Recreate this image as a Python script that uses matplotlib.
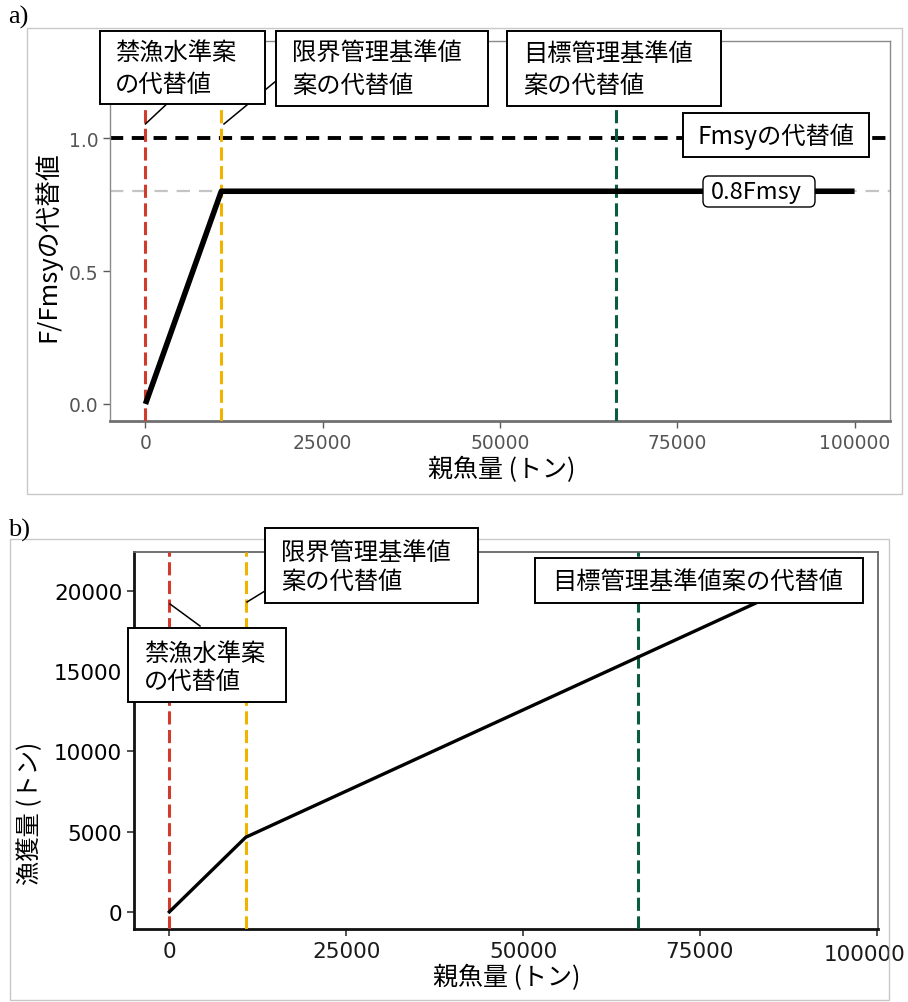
import matplotlib
matplotlib.use('Agg')
import matplotlib.pyplot as plt
from matplotlib.patches import Rectangle, FancyBboxPatch
import matplotlib.transforms as mtransforms

JP = ['Noto Sans CJK JP', 'DejaVu Sans']
plt.rcParams['font.family'] = JP

# ---------------- data ----------------
ssb_a = [0, 10700, 100000]
f_ratio = [0.0, 0.8, 0.8]
ssb_b = [0, 10800, 90000]
catch_b = [0, 4650, 20680]
ref_points_a = [0, 10700, 66300]
ref_points_b = [0, 10800, 66300]
ref_colors = ['#d13b2c', '#efb300', '#0b5b43']
fmsy_level = 1.0
f08_level = 0.8
xticks = [0, 25000, 50000, 75000, 100000]
xticklabels = ['0', '25000', '50000', '75000', '100000']
a_yticks = [0.0, 0.5, 1.0]
a_yticklabels = ['0.0', '0.5', '1.0']
b_yticks = [0, 5000, 10000, 15000, 20000]
b_yticklabels = ['0', '5000', '10000', '15000', '20000']
lab_ban = '禁漁水準案\nの代替値'
lab_limit = '限界管理基準値\n案の代替値'
lab_target = '目標管理基準値\n案の代替値'
lab_target_b = '目標管理基準値案の代替値'
lab_fmsy = 'Fmsyの代替値'
lab_f08 = '0.8Fmsy'
xlabel = '親魚量 (トン)'
ylabel_a = 'F/Fmsyの代替値'
ylabel_b = '漁獲量 (トン)'

W, H = 908, 1003
fig = plt.figure(figsize=(W / 100, H / 100), dpi=100)


def fx(px):
    return px / W


def fy(py):
    return 1 - py / H


def label_box(l, t, r, b, text, tx, ty, fs=17.5, ls=1.2, rounded=False):
    if rounded:
        patch = FancyBboxPatch((fx(l), fy(b)), (r - l) / W, (b - t) / H,
                               boxstyle='round,pad=0,rounding_size=0.006',
                               transform=fig.transFigure, fc='white', ec='black',
                               lw=1.0, zorder=5)
    else:
        patch = Rectangle((fx(l), fy(b)), (r - l) / W, (b - t) / H,
                          transform=fig.transFigure, fc='white', ec='black',
                          lw=1.4, zorder=5)
    fig.add_artist(patch)
    fig.text(fx(tx), fy(ty), text, ha='left', va='center', multialignment='left',
             fontsize=fs, linespacing=ls, zorder=6)


# outer frames
fig.add_artist(Rectangle((fx(27), fy(495)), 875 / W, 466 / H, transform=fig.transFigure,
                         fill=False, ec='#c8c8c8', lw=1))
fig.add_artist(Rectangle((fx(10), fy(1001)), 879 / W, 461 / H, transform=fig.transFigure,
                         fill=False, ec='#c8c8c8', lw=1))

fig.text(fx(8), fy(17), 'a)', family=['Liberation Serif', 'DejaVu Serif'], fontsize=19,
         ha='left', va='center')
fig.text(fx(8), fy(530), 'b)', family=['Liberation Serif', 'DejaVu Serif'], fontsize=19,
         ha='left', va='center')

# ---------------- panel a ----------------
ax_a = fig.add_axes([fx(110), fy(422), 780 / W, 380 / H])
ax_a.set_xlim(-5000, 105000)
ax_a.set_ylim(-0.064, 1.365)

ax_a.axhline(f08_level, color='#c4c4c4', lw=1.6, ls=(0, (6, 4)), zorder=1)
ax_a.axhline(fmsy_level, color='black', lw=2.8, ls=(0, (3.4, 2.2)), zorder=2)
for xv, c in zip(ref_points_a, ref_colors):
    ax_a.axvline(xv, color=c, lw=2.2, ls=(0, (4.3, 1.8)), zorder=3)
ax_a.plot(ssb_a, f_ratio, color='black', lw=4, solid_capstyle='butt', zorder=4)

# leader lines
ax_a.plot([0, 3000], [1.053, 1.128], color='black', lw=1.1, zorder=5, clip_on=False)
ax_a.plot([11077, 18410], [1.053, 1.2146], color='black', lw=1.1, zorder=5, clip_on=False)

label_box(100, 32, 265, 105, lab_ban, 115, 69, ls=1.3)
label_box(276, 32, 488, 107, lab_limit, 292, 70, ls=1.3)
label_box(507, 32, 721, 107, lab_target, 523, 70, ls=1.3)
label_box(683, 114, 869, 158, lab_fmsy, 698, 137)
label_box(703, 177, 815, 208, lab_f08, 711, 193, fs=17, rounded=True)

ax_a.set_xticks(xticks)
ax_a.set_xticklabels(xticklabels, family='DejaVu Sans', fontsize=13.5, color='#555555')
ax_a.set_yticks(a_yticks)
ax_a.set_yticklabels(a_yticklabels, family='DejaVu Sans', fontsize=13.5, color='#555555')
ax_a.tick_params(length=5, width=1, color='#5a5a5a')
for s in ax_a.spines.values():
    s.set_color('#8a8a8a')
    s.set_linewidth(1.0)
ax_a.spines['bottom'].set_color('#707070')
ax_a.spines['bottom'].set_linewidth(2)

fig.text(fx(502), fy(470), xlabel, ha='center', va='center', fontsize=18)
fig.text(fx(48), fy(247), ylabel_a, ha='center', va='center', rotation=90, fontsize=18.5)

# ---------------- panel b ----------------
ax_b = fig.add_axes([fx(134), fy(930), 744 / W, 377 / H])
ax_b.set_xlim(-5000, 100200)
ax_b.set_ylim(-1068, 22430)

for xv, c in zip(ref_points_b, ref_colors):
    ax_b.axvline(xv, color=c, lw=2.2, ls=(0, (4.3, 1.8)), zorder=3)
ax_b.plot(ssb_b, catch_b, color='black', lw=2.4, zorder=4)

ax_b.plot([90, 4332], [19190, 17818], color='black', lw=1.1, zorder=5, clip_on=False)
ax_b.plot([10980, 13523], [19314, 20000], color='black', lw=1.1, zorder=5, clip_on=False)

label_box(265, 529, 478, 604, lab_limit, 281, 568, ls=1.1)
label_box(128, 629, 286, 703, lab_ban, 144, 668, ls=1.1)
label_box(535, 559, 863, 604, lab_target_b, 552, 582)

ax_b.set_xticks(xticks)
ax_b.set_xticklabels(xticklabels, family='DejaVu Sans', fontsize=15.5, color='#1a1a1a')
ax_b.set_yticks(b_yticks)
ax_b.set_yticklabels(b_yticklabels, family='DejaVu Sans', fontsize=15.5, color='black')
ax_b.tick_params(length=5, width=1.2, color='#333333')
last = ax_b.get_xticklabels()[-1]
last.set_transform(last.get_transform() +
                   mtransforms.ScaledTranslation(-12 / 100, -3 / 100, fig.dpi_scale_trans))
for s in ['top', 'right']:
    ax_b.spines[s].set_color('#666666')
    ax_b.spines[s].set_linewidth(1.3)
for s in ['left', 'bottom']:
    ax_b.spines[s].set_color('#111111')
    ax_b.spines[s].set_linewidth(2)

fig.text(fx(507), fy(978), xlabel, ha='center', va='center', fontsize=18)
fig.text(fx(30), fy(813), ylabel_b, ha='center', va='center', rotation=90, fontsize=17.5)

fig.savefig('out.png', dpi=100)
